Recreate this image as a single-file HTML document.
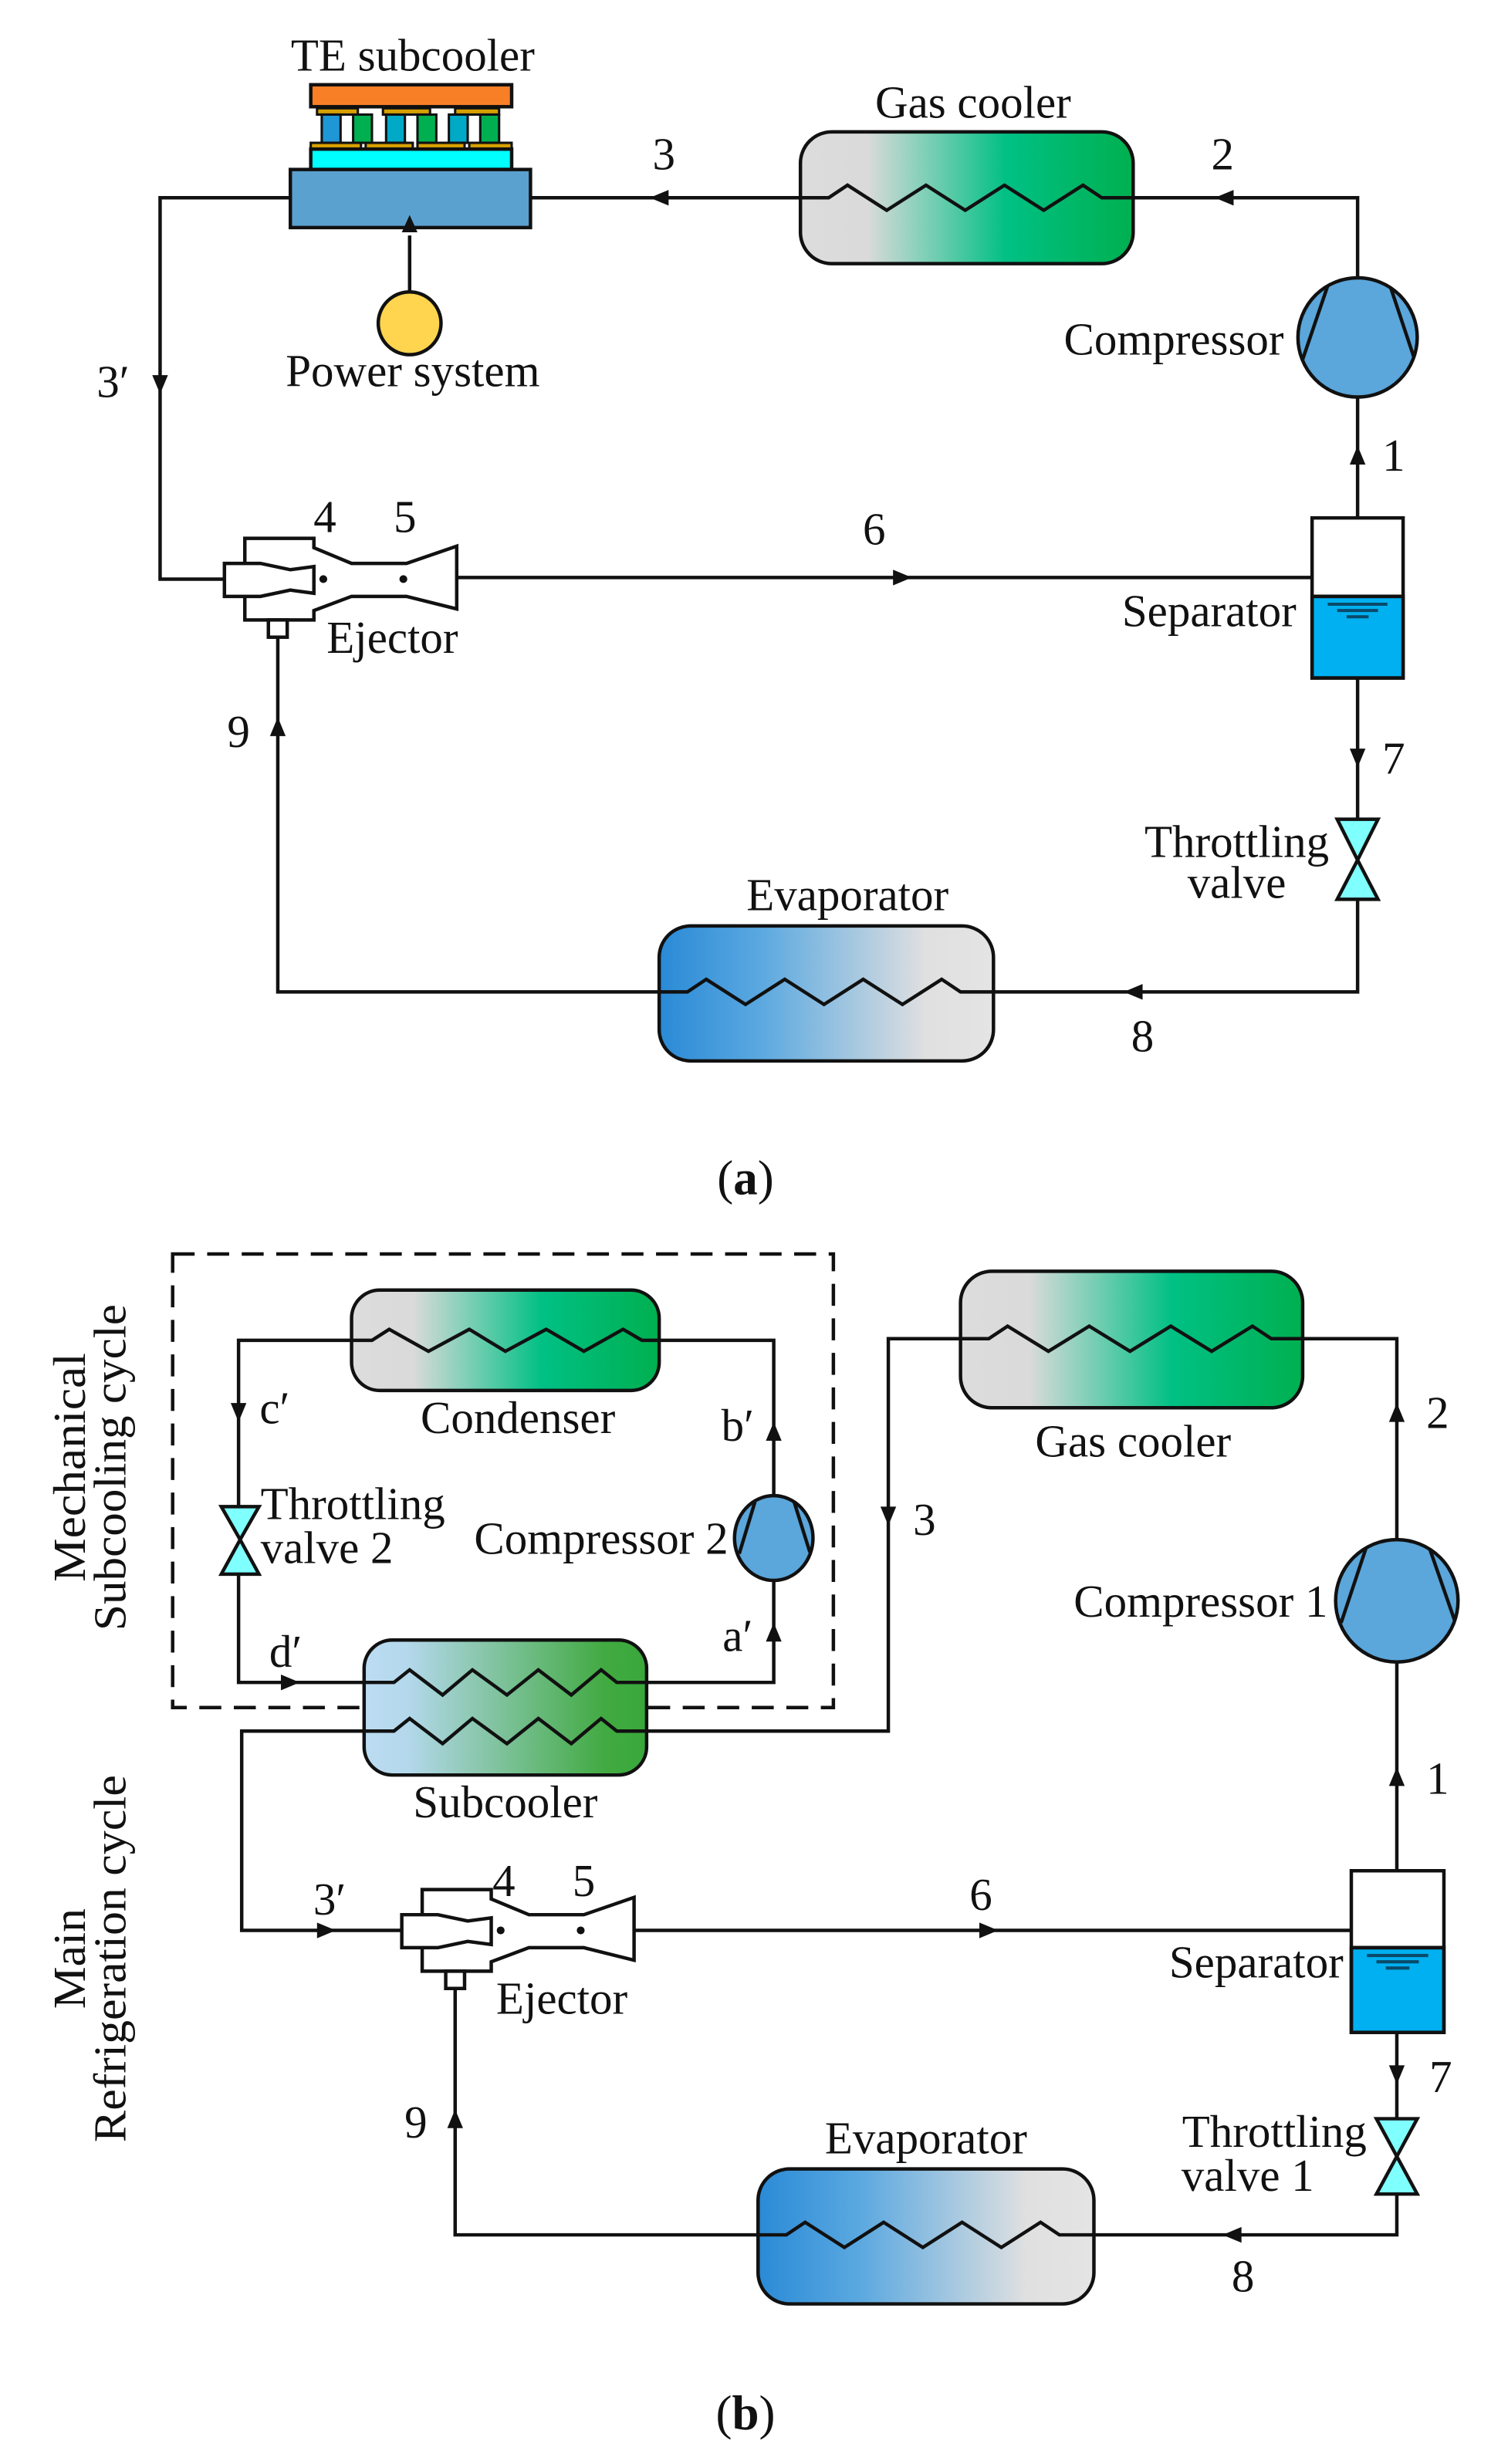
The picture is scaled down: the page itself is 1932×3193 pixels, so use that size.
<!DOCTYPE html>
<html><head><meta charset="utf-8"><style>html,body{margin:0;padding:0;background:#fff}svg{display:block}text{font-family:"Liberation Serif",serif;fill:#111}</style></head>
<body>
<svg width="1932" height="3193" viewBox="0 0 950 1570" preserveAspectRatio="none" xmlns="http://www.w3.org/2000/svg">
<defs>
<linearGradient id="gc" x1="0" x2="1" y1="0" y2="0"><stop offset="0" stop-color="#dcdcdc"/><stop offset="0.2" stop-color="#dadada"/><stop offset="0.62" stop-color="#00c084"/><stop offset="1" stop-color="#00b050"/></linearGradient>
<linearGradient id="ev" x1="0" x2="1" y1="0" y2="0"><stop offset="0" stop-color="#2a8ad6"/><stop offset="0.3" stop-color="#5aa8e0"/><stop offset="0.8" stop-color="#e0e0e0"/><stop offset="1" stop-color="#e4e4e4"/></linearGradient>
<linearGradient id="sc" x1="0" x2="1" y1="0" y2="0"><stop offset="0" stop-color="#bcdcf2"/><stop offset="0.15" stop-color="#b4d8ec"/><stop offset="0.85" stop-color="#42aa42"/><stop offset="1" stop-color="#38a83a"/></linearGradient>
</defs>
<g stroke="#111" stroke-width="2.2" fill="none">
<rect x="198" y="54" width="128" height="14" fill="#f97f26"/>
<g stroke-width="1.5">
<rect x="202" y="69" width="26" height="4" fill="#d6a000"/><rect x="244" y="69" width="30" height="4" fill="#d6a000"/><rect x="290" y="69" width="28" height="4" fill="#d6a000"/>
<rect x="205" y="73" width="12" height="18" fill="#1f96d6"/><rect x="225" y="73" width="12" height="18" fill="#00b050"/>
<rect x="246" y="73" width="12" height="18" fill="#00a9c6"/><rect x="266" y="73" width="12" height="18" fill="#00b050"/>
<rect x="286" y="73" width="12" height="18" fill="#00a9c6"/><rect x="306" y="73" width="12" height="18" fill="#00b050"/>
<rect x="198" y="91" width="32" height="4" fill="#d6a000"/><rect x="233" y="91" width="30" height="4" fill="#d6a000"/><rect x="266" y="91" width="30" height="4" fill="#d6a000"/><rect x="299" y="91" width="27" height="4" fill="#d6a000"/>
</g>
<rect x="198" y="95" width="128" height="13" fill="#00ffff"/>
<rect x="185" y="108" width="153" height="37" fill="#5ba1cf"/>
<circle cx="261" cy="206" r="20" fill="#ffd54f"/>
<line x1="261" y1="186" x2="261" y2="150"/>
<polyline points="185,126 102,126 102,369 143,369"/>
<line x1="338" y1="126" x2="510" y2="126"/>
<polyline points="722,126 865,126 865,177"/>
<line x1="865" y1="253" x2="865" y2="330"/>
<line x1="291" y1="368" x2="836" y2="368"/>
<line x1="865" y1="432" x2="865" y2="522"/>
<polyline points="865,573 865,632 633,632"/>
<polyline points="420,632 177,632 177,406"/>
<rect x="510" y="84" width="212" height="84" rx="20" fill="url(#gc)"/>
<polyline points="510,126 528,126 540,118 565,134 590,118 615,134 640,118 665,134 690,118 702,126 722,126"/>
<circle cx="865" cy="215" r="38" fill="#5ba6da"/>
<line x1="846" y1="182" x2="830" y2="229"/><line x1="886" y1="183" x2="901" y2="228"/>
<rect x="836" y="380" width="58" height="52" fill="#00b0f0"/>
<rect x="836" y="330" width="58" height="102"/>
<line x1="836" y1="380" x2="894" y2="380"/>
<g stroke="#0a4a6a" stroke-width="2"><line x1="846" y1="385" x2="884" y2="385"/><line x1="852" y1="389" x2="878" y2="389"/><line x1="858" y1="393" x2="872" y2="393"/></g>
<polygon points="852,522 878,522 865,548" fill="#80ffff"/><polygon points="852,573 878,573 865,548" fill="#80ffff"/>
<rect x="420" y="590" width="213" height="86" rx="20" fill="url(#ev)"/>
<polyline points="420,632 438,632 450,624 475,640 500,624 525,640 550,624 575,640 600,624 612,632 633,632"/>
<g id="ej">
<path d="M156,343 H200 V349 L224,359 H259 L291,348 V388 L259,380 H224 L200,389 V395 H156 Z" fill="#fff"/>
<path d="M143,359 H166 L185,363 L200,361 V378 L185,376 L166,380 H143 Z" fill="#fff"/>
<rect x="171" y="395" width="12" height="11" fill="#fff"/>
<circle cx="206" cy="369" r="2.5" fill="#111" stroke="none"/><circle cx="257" cy="369" r="2.5" fill="#111" stroke="none"/>
</g>
<rect x="110" y="799" width="421" height="289" stroke-dasharray="14,8"/>
<polyline points="224,854 152,854 152,960"/>
<polyline points="152,1003 152,1072 232,1072"/>
<polyline points="420,854 493,854 493,953"/>
<polyline points="412,1072 493,1072 493,1007"/>
<polyline points="612,853 566,853 566,1103 412,1103"/>
<polyline points="232,1103 154,1103 154,1230 255,1230"/>
<polyline points="830,853 890,853 890,981"/>
<line x1="890" y1="1059" x2="890" y2="1192"/>
<line x1="404" y1="1230" x2="861" y2="1230"/>
<line x1="890" y1="1295" x2="890" y2="1350"/>
<polyline points="890,1398 890,1424 697,1424"/>
<polyline points="483,1424 290,1424 290,1268"/>
<rect x="224" y="822" width="196" height="64" rx="18" fill="url(#gc)"/>
<polyline points="224,854 237,854 248,847 273,861 299,847 322,861 348,847 372,861 397,847 409,854 420,854"/>
<rect x="232" y="1045" width="180" height="86" rx="18" fill="url(#sc)"/>
<polyline points="232,1072 251,1072 261,1064 282,1080 301,1064 323,1080 343,1064 364,1080 383,1064 393,1072 412,1072"/>
<polyline points="232,1103 251,1103 261,1095 282,1111 301,1095 323,1111 343,1095 364,1111 383,1095 393,1103 412,1103"/>
<polygon points="141,960 165,960 153,981" fill="#80ffff"/><polygon points="141,1003 165,1003 153,981" fill="#80ffff"/>
<ellipse cx="493" cy="980" rx="25" ry="27" fill="#5ba6da"/>
<line x1="481" y1="957" x2="471" y2="990"/><line x1="506" y1="957" x2="516" y2="989"/>
<rect x="612" y="810" width="218" height="87" rx="20" fill="url(#gc)"/>
<polyline points="612,853 630,853 642,845 668,861 694,845 720,861 746,845 772,861 798,845 810,853 830,853"/>
<circle cx="890" cy="1020" r="39" fill="#5ba6da"/>
<line x1="870.5" y1="986" x2="854.5" y2="1034"/><line x1="911" y1="987" x2="927" y2="1033"/>
<rect x="861" y="1241" width="59" height="54" fill="#00b0f0"/>
<rect x="861" y="1192" width="59" height="103"/>
<line x1="861" y1="1241" x2="920" y2="1241"/>
<g stroke="#0a4a6a" stroke-width="2"><line x1="871" y1="1246" x2="910" y2="1246"/><line x1="877" y1="1250" x2="904" y2="1250"/><line x1="883" y1="1254" x2="898" y2="1254"/></g>
<polygon points="877,1350 903,1350 890,1374" fill="#80ffff"/><polygon points="877,1398 903,1398 890,1374" fill="#80ffff"/>
<rect x="483" y="1382" width="214" height="86" rx="20" fill="url(#ev)"/>
<polyline points="483,1424 501,1424 513,1416 538,1432 563,1416 588,1432 613,1416 638,1432 663,1416 675,1424 697,1424"/>
<use href="#ej" transform="translate(113,861)"/>
</g>
<g fill="#111">
<polygon points="97,239 107,239 102,251"/>
<polygon points="256,148 266,148 261,137"/>
<polygon points="426,121 426,131 414,126"/>
<polygon points="786,121 786,131 774,126"/>
<polygon points="860,296 870,296 865,284"/>
<polygon points="569,363 569,373 581,368"/>
<polygon points="860,477 870,477 865,489"/>
<polygon points="728,627 728,637 716,632"/>
<polygon points="172,469 182,469 177,457"/>
<polygon points="147,894 157,894 152,906"/>
<polygon points="488,918 498,918 493,906"/>
<polygon points="488,1046 498,1046 493,1034"/>
<polygon points="179,1067 179,1077 191,1072"/>
<polygon points="561,960 571,960 566,972"/>
<polygon points="885,906 895,906 890,894"/>
<polygon points="885,1138 895,1138 890,1126"/>
<polygon points="624,1225 624,1235 636,1230"/>
<polygon points="202,1225 202,1235 214,1230"/>
<polygon points="885,1316 895,1316 890,1328"/>
<polygon points="791,1419 791,1429 779,1424"/>
<polygon points="285,1356 295,1356 290,1344"/>
</g>
<g font-size="29" stroke="none">
<text x="263" y="45" text-anchor="middle">TE subcooler</text>
<text x="620" y="75" text-anchor="middle">Gas cooler</text>
<text x="423" y="108" text-anchor="middle">3</text>
<text x="779" y="108" text-anchor="middle">2</text>
<text x="818" y="226" text-anchor="end">Compressor</text>
<text x="263" y="246" text-anchor="middle">Power system</text>
<text x="72" y="253" text-anchor="middle">3′</text>
<text x="888" y="300" text-anchor="middle">1</text>
<text x="207" y="339" text-anchor="middle">4</text>
<text x="258" y="339" text-anchor="middle">5</text>
<text x="557" y="347" text-anchor="middle">6</text>
<text x="826" y="399" text-anchor="end">Separator</text>
<text x="250" y="416" text-anchor="middle">Ejector</text>
<text x="152" y="476" text-anchor="middle">9</text>
<text x="888" y="493" text-anchor="middle">7</text>
<text x="788" y="546" text-anchor="middle">Throttling</text>
<text x="788" y="572" text-anchor="middle">valve</text>
<text x="540" y="580" text-anchor="middle">Evaporator</text>
<text x="728" y="670" text-anchor="middle">8</text>
<text x="475" y="761" text-anchor="middle" font-size="31">(<tspan font-weight="bold">a</tspan>)</text>
<text x="330" y="913" text-anchor="middle">Condenser</text>
<text x="175" y="907" text-anchor="middle">c′</text>
<text x="470" y="918" text-anchor="middle">b′</text>
<text x="166" y="968">Throttling</text>
<text x="166" y="996">valve 2</text>
<text x="464" y="990" text-anchor="end">Compressor 2</text>
<text x="470" y="1052" text-anchor="middle">a′</text>
<text x="182" y="1062" text-anchor="middle">d′</text>
<text x="322" y="1158" text-anchor="middle">Subcooler</text>
<text x="722" y="928" text-anchor="middle">Gas cooler</text>
<text x="589" y="978" text-anchor="middle">3</text>
<text x="916" y="910" text-anchor="middle">2</text>
<text x="846" y="1030" text-anchor="end">Compressor 1</text>
<text x="916" y="1143" text-anchor="middle">1</text>
<text x="210" y="1220" text-anchor="middle">3′</text>
<text x="321" y="1208" text-anchor="middle">4</text>
<text x="372" y="1208" text-anchor="middle">5</text>
<text x="625" y="1217" text-anchor="middle">6</text>
<text x="856" y="1260" text-anchor="end">Separator</text>
<text x="358" y="1283" text-anchor="middle">Ejector</text>
<text x="918" y="1333" text-anchor="middle">7</text>
<text x="265" y="1362" text-anchor="middle">9</text>
<text x="812" y="1368" text-anchor="middle">Throttling</text>
<text x="795" y="1396" text-anchor="middle">valve 1</text>
<text x="590" y="1372" text-anchor="middle">Evaporator</text>
<text x="792" y="1460" text-anchor="middle">8</text>
<text transform="translate(54,935) rotate(-90)" text-anchor="middle" textLength="146" lengthAdjust="spacingAndGlyphs">Mechanical</text>
<text transform="translate(80,935) rotate(-90)" text-anchor="middle" textLength="208" lengthAdjust="spacingAndGlyphs">Subcooling cycle</text>
<text transform="translate(54,1248) rotate(-90)" text-anchor="middle" textLength="64" lengthAdjust="spacingAndGlyphs">Main</text>
<text transform="translate(80,1248) rotate(-90)" text-anchor="middle" textLength="234" lengthAdjust="spacingAndGlyphs">Refrigeration cycle</text>
<text x="475" y="1548" text-anchor="middle" font-size="31">(<tspan font-weight="bold">b</tspan>)</text>
</g>
</svg>
</body></html>
